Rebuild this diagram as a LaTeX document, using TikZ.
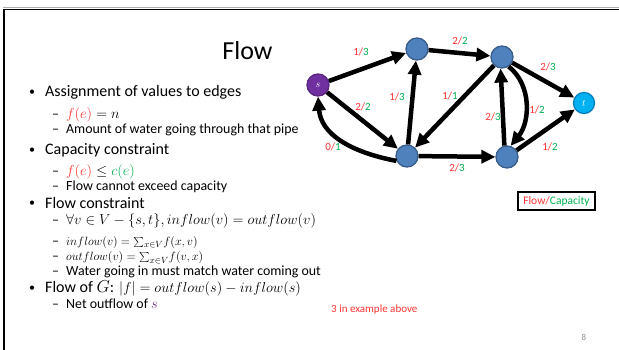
\documentclass[tikz,border=0pt]{standalone}
\usepackage{fontspec}
\setmainfont{Carlito}
\usetikzlibrary{arrows.meta}
\definecolor{lred}{HTML}{FF3333}
\definecolor{lgreen}{HTML}{00B050}
\definecolor{purp}{HTML}{7030A0}
\definecolor{purpd}{HTML}{5A2680}
\definecolor{nblue}{HTML}{4F81BD}
\definecolor{nblued}{HTML}{385D8A}
\definecolor{tcyan}{HTML}{00B0F0}
\definecolor{tcyand}{HTML}{0080C0}
\definecolor{pgray}{HTML}{8C8C8C}
\newcommand{\fc}[2]{\textcolor{lred}{#1/}\textcolor{lgreen}{#2}}
\newcommand{\mainf}{\fontsize{16}{19}\selectfont}
\newcommand{\subf}{\fontsize{13.9}{16}\selectfont}
\newcommand{\sumf}{\fontsize{13.2}{15}\selectfont}
\newcommand{\bulf}{\fontsize{12}{14}\selectfont}
\tikzset{
  vert/.style={circle, minimum size=22pt, inner sep=0pt, line width=1.3pt, draw=nblued, fill=nblue},
  edge/.style={line width=4.5pt, -{Triangle[length=14pt,width=13pt]}},
  lab/.style={font=\fontsize{11}{11}\selectfont, inner sep=0pt},
  txt/.style={anchor=base west, inner sep=0pt},
}
\begin{document}
\begin{tikzpicture}[x=1pt,y=-1pt]
\useasboundingbox (0,0) rectangle (619,350);
% slide frame
\draw[pgray!70, line width=1pt] (3,7.5) -- (619,7.5);
\draw[black, line width=1.6pt] (4,350) -- (4,9.6) -- (619,9.6);
% title
\node[anchor=base, inner sep=0pt, font=\fontsize{26}{30}\selectfont] (title) at (247.5,59.3) {Flow};
% graph nodes
\node[vert, fill=purp, draw=purpd] (s) at (318,85) {\color{white}\fontsize{10}{10}\selectfont$s$};
\node[vert] (A) at (417,49) {};
\node[vert] (B) at (502,57) {};
\node[vert, fill=tcyan, draw=tcyand, minimum size=21pt] (t) at (584,103) {\color{white}\fontsize{10}{10}\selectfont$t$};
\node[vert] (C) at (407,156) {};
\node[vert] (D) at (507,157) {};
% edges
\draw[edge] (s) -- (A);
\draw[edge] (A) -- (B);
\draw[edge] (s) -- (C);
\draw[edge] (C.205) .. controls (350,152) and (321,134) .. (s.south);
\draw[edge] (C) -- (A);
\draw[edge] (B) -- (C);
\draw[edge] (C) -- (D);
\draw[edge] (D.103) -- (B.-97);
\draw[edge] (B.-55) .. controls (532,85) and (530,122) .. (D.72);
\draw[edge] (B) -- (t);
\draw[edge] (D) -- (t);
% edge labels
\node[lab] (l1) at (361,52) {\fc{1}{3}};
\node[lab] (l2) at (460,41) {\fc{2}{2}};
\node[lab] (l3) at (363,107) {\fc{2}{2}};
\node[lab] (l4) at (397,97) {\fc{1}{3}};
\node[lab] (l5) at (450,96) {\fc{1}{1}};
\node[lab] (l6) at (333,147) {\fc{0}{1}};
\node[lab] (l7) at (457,168) {\fc{2}{3}};
\node[lab] (l8) at (493,117) {\fc{2}{3}};
\node[lab] (l9) at (537,110) {\fc{1}{2}};
\node[lab] (l10) at (548,67) {\fc{2}{3}};
\node[lab] (l11) at (550,147) {\fc{1}{2}};
% legend
\node[draw=black, line width=2pt, minimum width=77pt, minimum height=18pt, inner sep=0pt, font=\fontsize{11.5}{12}\selectfont] (legend) at (556.5,201) {\fc{Flow}{Capacity}};
% bullets
\node[txt, font=\bulf] (b1) at (29,96) {•};
\node[txt, font=\mainf] (t1) at (45,97) {Assignment of values to edges};
\node[txt, font=\subf] (d11) at (52,119) {–};
\node[txt, font=\subf] (t11) at (66,119) {$\color{lred}f(e)\color{black}=n$};
\node[txt, font=\subf] (d12) at (52,134) {–};
\node[txt, font=\subf] (t12) at (66,134) {Amount of water going through that pipe};
\node[txt, font=\bulf] (b2) at (29,154) {•};
\node[txt, font=\mainf] (t2) at (45,155) {Capacity constraint};
\node[txt, font=\subf] (d21) at (52,176) {–};
\node[txt, font=\subf] (t21) at (66,176) {$\color{lred}f(e)\color{black}\leq\color{lgreen}c(e)$};
\node[txt, font=\subf] (d22) at (52,191) {–};
\node[txt, font=\subf] (t22) at (66,191) {Flow cannot exceed capacity};
\node[txt, font=\bulf] (b3) at (29,207) {•};
\node[txt, font=\mainf] (t3) at (45,208) {Flow constraint};
\node[txt, font=\subf] (d31) at (52,225) {–};
\node[txt, font=\subf] (t31) at (66,225) {$\forall v\in V-\{s,t\}, inflow(v)=outflow(v)$};
\node[txt, font=\subf] (d32) at (52,245) {–};
\node[txt, font=\sumf] (t32) at (66,245) {$inflow(v)=\smash{\sum_{x\in V}}f(x,v)$};
\node[txt, font=\subf] (d33) at (52,260.5) {–};
\node[txt, font=\sumf] (t33) at (66,260.5) {$outflow(v)=\smash{\sum_{x\in V}}f(v,x)$};
\node[txt, font=\subf] (d34) at (52,275.5) {–};
\node[txt, font=\subf] (t34) at (66,275.5) {Water going in must match water coming out};
\node[txt, font=\bulf] (b4) at (29,291) {•};
\node[txt, font=\mainf] (t4) at (45,292) {Flow of $G$: \fontsize{15.2}{18}\selectfont$|f|=outflow(s)-inflow(s)$};
\node[txt, font=\subf] (d41) at (52,308) {–};
\node[txt, font=\subf] (t41) at (66,308) {Net outflow of $\color{purp}s$};
\node[txt, font=\fontsize{11}{12}\selectfont, text=lred] (note) at (331,312) {3 in example above};
\node[anchor=base, inner sep=0pt, font=\fontsize{9}{10}\selectfont, text=pgray] (pg) at (584,340) {8};
\end{tikzpicture}
\end{document}
